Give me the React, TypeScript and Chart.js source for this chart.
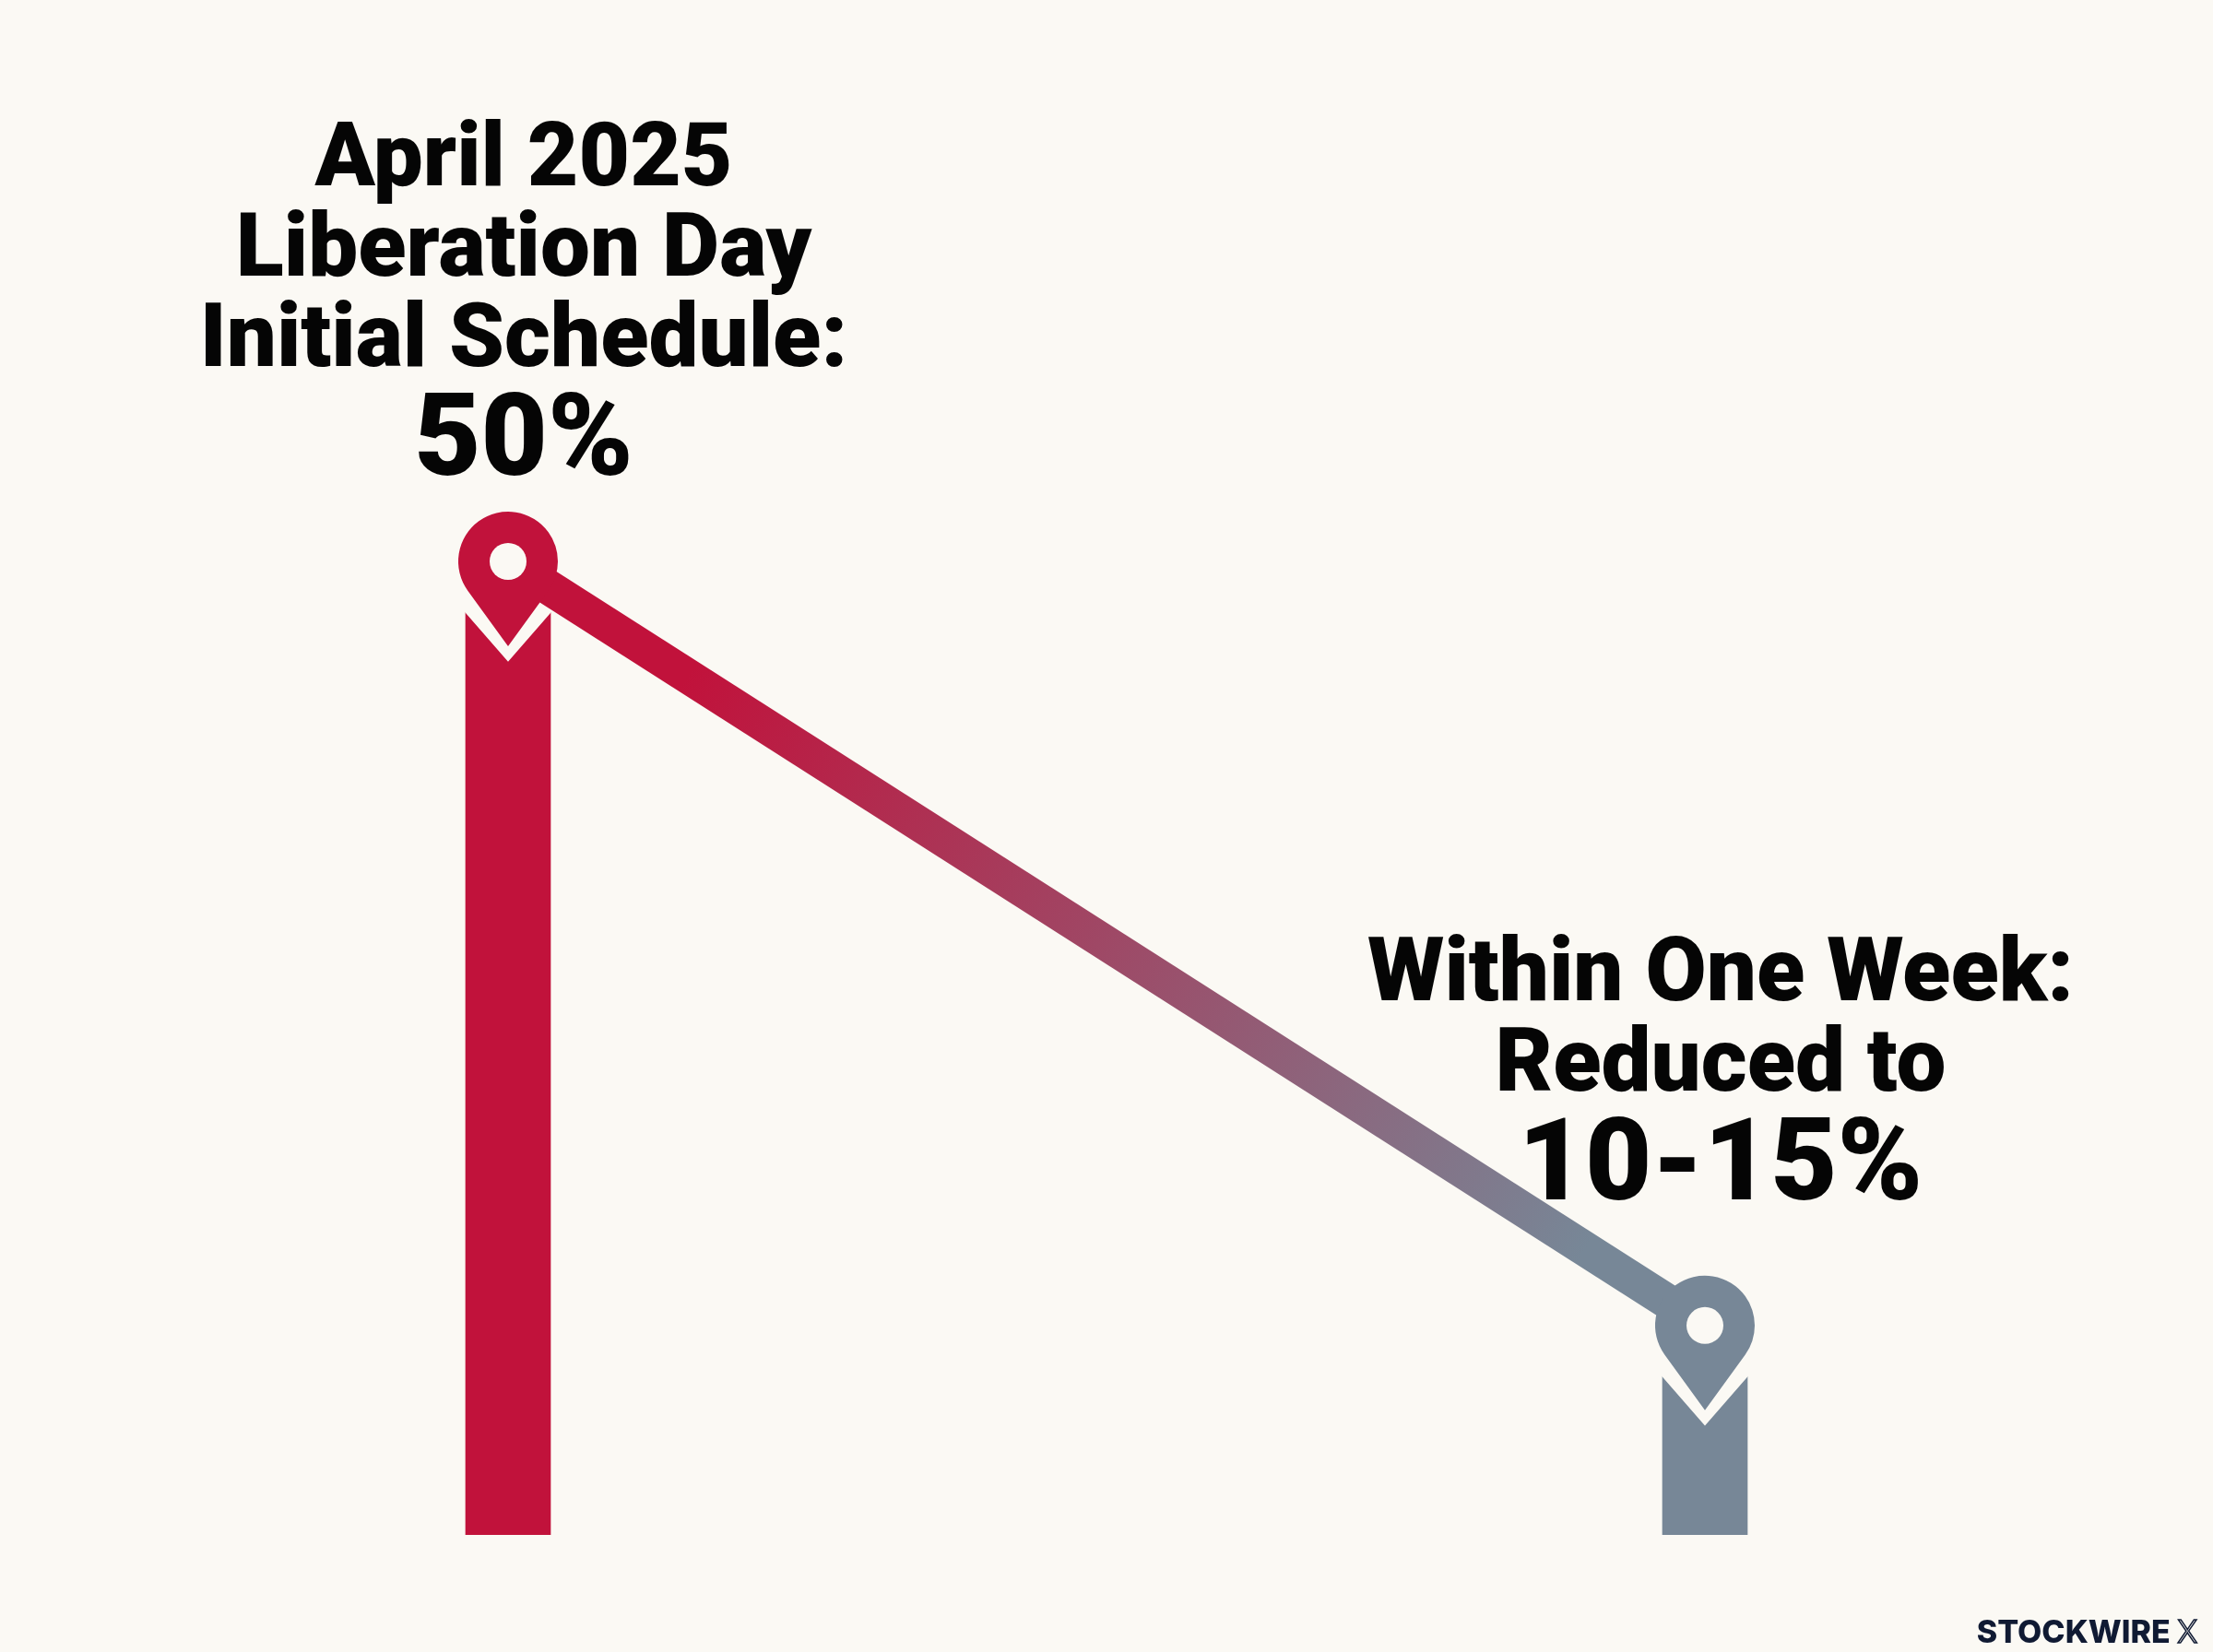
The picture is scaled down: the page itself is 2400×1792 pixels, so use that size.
import React, { useEffect, useRef } from "react";
import { Chart, registerables } from "chart.js";

Chart.register(...registerables);

// ---- data ----
const categories = ["April 2025 Liberation Day", "Within One Week"];
const tariffValues = [50, 13];
const headingLines = [
  ["April 2025", "Liberation Day", "Initial Schedule:"],
  ["Within One Week:", "Reduced to"],
];
const valueLabels = ["50%", "10-15%"];
const watermarkText = ["STOCKWIRE", "X"];

// ---- style ----
const barColors = ["#C1123B", "#778797"];
const BG = "#FBF9F4";
const PIN_LIFT = 48;
const PIN_R = 54;
const HOLE_R = 20;
const TIP = 92;
const LABEL_GAP = [94, 137];
const LABEL_DX = 17;
const HEAD_FONT = "900 96px Roboto, 'Noto Sans', sans-serif";
const VALUE_FONT = "900 125px Roboto, 'Noto Sans', sans-serif";
const LINE_STEP = 98;
const VALUE_STEP = 118;

function pinGeometry(cx: number, cy: number) {
  const a = Math.acos(PIN_R / TIP);
  const tx = PIN_R * Math.sin(a);
  const ty = PIN_R * Math.cos(a);
  const startAng = Math.PI - Math.atan2(ty, tx);
  const endAng = 2 * Math.PI + Math.atan2(ty, tx);
  return {
    left: [cx - tx, cy + ty],
    right: [cx + tx, cy + ty],
    tip: [cx, cy + TIP],
    startAng,
    endAng,
  };
}

const pinPlugin = {
  id: "pins",
  beforeDraw(chart: any) {
    const c = chart.ctx;
    c.save();
    c.fillStyle = BG;
    c.fillRect(0, 0, chart.width, chart.height);
    c.restore();
  },
  beforeDatasetDraw(chart: any, args: any) {
    if (args.index === 1) {
      chart.ctx.save();
      chart.ctx.translate(0, -PIN_LIFT);
    }
  },
  afterDatasetDraw(chart: any, args: any) {
    const c = chart.ctx;
    if (args.index === 1) {
      c.restore();
      return;
    }
    if (args.index === 0) {
      const meta = chart.getDatasetMeta(0);
      meta.data.forEach((el: any) => {
        const g = pinGeometry(el.x, el.y - PIN_LIFT);
        c.save();
        c.strokeStyle = BG;
        c.lineWidth = 22;
        c.lineJoin = "miter";
        c.miterLimit = 10;
        c.beginPath();
        c.moveTo(g.left[0] - 30 * Math.cos(0.63), g.left[1] - 30 * Math.sin(0.63));
        c.lineTo(g.tip[0], g.tip[1]);
        c.lineTo(g.right[0] + 30 * Math.cos(0.63), g.right[1] - 30 * Math.sin(0.63));
        c.stroke();
        c.restore();
      });
    }
  },
  afterDatasetsDraw(chart: any) {
    const c = chart.ctx;
    const meta = chart.getDatasetMeta(0);
    meta.data.forEach((el: any, i: number) => {
      const cx = el.x;
      const cy = el.y - PIN_LIFT;
      const g = pinGeometry(cx, cy);
      c.save();
      c.fillStyle = barColors[i];
      c.beginPath();
      c.arc(cx, cy, PIN_R, g.startAng, g.endAng, false);
      c.lineTo(g.tip[0], g.tip[1]);
      c.closePath();
      c.fill();
      c.fillStyle = BG;
      c.beginPath();
      c.arc(cx, cy, HOLE_R, 0, Math.PI * 2);
      c.fill();
      c.restore();

      // labels
      c.save();
      c.fillStyle = "#050505";
      c.textAlign = "center";
      c.textBaseline = "alphabetic";
      const tx = cx + LABEL_DX;
      const vBase = cy - LABEL_GAP[i];
      c.font = VALUE_FONT;
      c.fillText(valueLabels[i], tx, vBase);
      c.font = HEAD_FONT;
      const lines = headingLines[i];
      lines.forEach((ln, j) => {
        const base = vBase - VALUE_STEP - (lines.length - 1 - j) * LINE_STEP;
        c.fillText(ln, tx, base);
      });
      c.restore();
    });

    // watermark
    c.save();
    c.fillStyle = "#101a33";
    c.strokeStyle = "#101a33";
    c.textBaseline = "alphabetic";
    c.textAlign = "left";
    c.font = "800 34px Inter, 'Noto Sans', sans-serif";
    const wBase = 1782;
    const xW = c.measureText(watermarkText[1]).width;
    const mainW = c.measureText(watermarkText[0] + " ").width;
    const right = 2387;
    const startX = right - xW - mainW;
    c.fillText(watermarkText[0], startX, wBase);
    c.font = "300 34px Inter, 'Noto Sans', sans-serif";
    c.lineWidth = 1.5;
    c.strokeText(watermarkText[1], startX + mainW, wBase);
    c.restore();
  },
};

export default function App() {
  const ref = useRef<HTMLCanvasElement | null>(null);
  useEffect(() => {
    document.body.style.margin = "0";
    document.body.style.background = BG;
    const canvas = ref.current;
    if (!canvas) return;
    const chart = new Chart(canvas, {
      type: "bar",
      data: {
        labels: categories,
        datasets: [
          {
            type: "bar",
            data: tariffValues,
            backgroundColor: barColors,
            barThickness: 92,
            borderWidth: 0,
            clip: { left: false, right: false, top: false, bottom: 0 },
            order: 2,
          } as any,
          {
            type: "line",
            data: tariffValues,
            borderWidth: 38,
            pointRadius: 0,
            pointHoverRadius: 0,
            tension: 0,
            clip: false,
            order: 1,
            borderCapStyle: "butt",
            borderColor: (ctx: any) => {
              const ch = ctx.chart;
              const xs = ch.scales?.x;
              const ys = ch.scales?.y;
              if (!xs || !ys || !ch.chartArea) return barColors[0];
              const x0 = xs.getPixelForValue(0);
              const x1 = xs.getPixelForValue(1);
              const y0 = ys.getPixelForValue(tariffValues[0]);
              const y1 = ys.getPixelForValue(tariffValues[1]);
              const g = ch.ctx.createLinearGradient(x0, y0, x1, y1);
              g.addColorStop(0, barColors[0]);
              g.addColorStop(0.15, barColors[0]);
              g.addColorStop(0.9, barColors[1]);
              g.addColorStop(1, barColors[1]);
              return g;
            },
          } as any,
        ],
      },
      options: {
        responsive: false,
        animation: false,
        devicePixelRatio: 1,
        events: [],
        layout: { padding: { left: 551, right: 551, top: 545, bottom: 127 } },
        plugins: { legend: { display: false }, tooltip: { enabled: false } },
        scales: {
          x: { type: "category", offset: false, display: false },
          y: { type: "linear", min: 5, max: 55, display: false },
        },
      },
      plugins: [pinPlugin],
    });
    return () => chart.destroy();
  }, []);
  return (
    <canvas
      ref={ref}
      width={2400}
      height={1792}
      style={{ display: "block", width: 2400, height: 1792 }}
    />
  );
}
